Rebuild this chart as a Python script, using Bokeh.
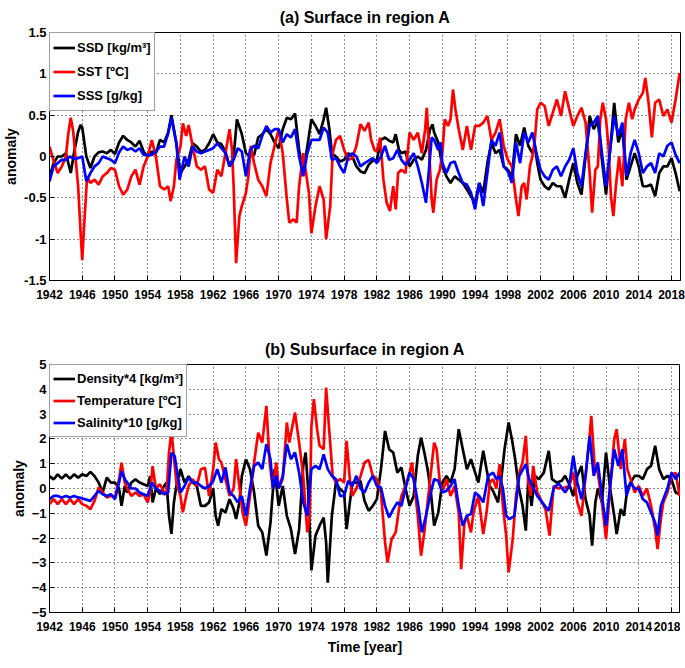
from bokeh.plotting import figure
from bokeh.layouts import column
from bokeh.models import Range1d, FixedTicker, Legend, LegendItem
from bokeh.embed import file_html
from bokeh.resources import INLINE

FONT = "Liberation Sans"

# ---------------- data: (a) surface ----------------
ssd_year = [1942, 1942.5, 1943, 1943.5, 1944, 1944.6, 1945, 1945.5, 1945.8, 1946, 1946.5, 1947, 1947.5, 1948, 1948.5, 1949, 1949.5,
            1950, 1950.5, 1951, 1951.5, 1952, 1952.5, 1953, 1953.5, 1954, 1954.5, 1955, 1955.5, 1956, 1956.5, 1956.9, 1957.5, 1958, 1958.5, 1959, 1959.5,
            1960, 1960.5, 1961, 1961.5, 1962, 1962.5, 1963, 1963.5, 1964, 1964.5, 1964.9, 1965.5, 1966, 1966.5, 1967, 1967.5, 1968, 1968.5, 1969, 1969.5,
            1970, 1970.5, 1971, 1971.5, 1972, 1972.5, 1973, 1973.5, 1974, 1974.5, 1975, 1975.5, 1975.8, 1976.2, 1976.5, 1977, 1977.5, 1978, 1978.5, 1979, 1979.5,
            1980, 1980.5, 1981, 1981.5, 1982, 1982.5, 1983, 1983.5, 1984, 1984.3, 1984.7, 1985, 1985.5, 1986, 1986.5, 1987, 1987.5, 1988, 1988.5, 1988.8, 1989, 1989.5,
            1990, 1990.5, 1991, 1991.5, 1992, 1992.5, 1993, 1993.5, 1994, 1994.5, 1995, 1995.5, 1996, 1996.5, 1997, 1997.5, 1998, 1998.5, 1999, 1999.5,
            2000, 2000.5, 2001, 2001.3, 2001.6, 2002, 2002.5, 2003, 2003.5, 2004, 2004.5, 2005, 2005.5, 2006, 2006.5, 2007, 2007.5, 2008, 2008.5, 2009, 2009.5,
            2010, 2010.5, 2011, 2011.5, 2012, 2012.5, 2013, 2013.5, 2014, 2014.5, 2015, 2015.5, 2016, 2016.5, 2017, 2017.5, 2018, 2018.5, 2019]
ssd_val = [-0.25, -0.08, 0.0, 0.0, 0.04, -0.2, 0.05, 0.3, 0.38, 0.35, 0.0, -0.14, 0.0, 0.05, 0.06, 0.04, 0.08,
           0.03, 0.17, 0.25, 0.2, 0.17, 0.12, 0.19, 0.06, 0.0, 0.06, 0.04, 0.2, 0.17, 0.29, 0.5, 0.16, -0.2, -0.12, -0.04, 0.16,
           0.12, 0.06, 0.08, 0.16, 0.27, 0.17, 0.15, 0.06, -0.12, 0.0, 0.45, 0.27, 0.04, 0.0, 0.02, 0.23, 0.27, 0.33, 0.27, 0.17,
           0.1, 0.33, 0.47, 0.45, 0.52, 0.08, -0.2, 0.12, 0.45, 0.37, 0.27, 0.45, 0.59, 0.33, 0.04, 0.0, -0.06, -0.04, 0.04, 0.0, -0.12,
           -0.18, -0.2, -0.1, -0.05, -0.04, 0.2, 0.23, 0.19, 0.17, 0.27, 0.08, 0.04, 0.06, -0.12, -0.04, 0.0, -0.04, 0.08, 0.33, 0.39, 0.29, 0.17,
           -0.12, -0.24, -0.32, -0.24, -0.28, -0.32, -0.4, -0.48, -0.56, -0.32, -0.44, -0.08, 0.17, 0.04, 0.08, -0.12, -0.16, -0.24, 0.27, 0.13,
           0.35, 0.13, 0.04, 0.13, -0.08, -0.28, -0.36, -0.4, -0.32, -0.36, -0.36, -0.5, -0.28, -0.08, -0.32, -0.46, 0.0, 0.49, 0.33, 0.43, -0.04,
           -0.46, 0.08, 0.65, 0.17, 0.33, -0.28, -0.12, 0.04, -0.12, -0.36, -0.36, -0.34, -0.48, -0.2, -0.12, -0.12, -0.02, -0.2, -0.42]

sst_year = [1942, 1942.5, 1943, 1943.5, 1944, 1944.3, 1944.6, 1944.9, 1945.2, 1945.5, 1945.8, 1946, 1946.3, 1946.6, 1947, 1947.5, 1948, 1948.5, 1949, 1949.5,
            1950, 1950.5, 1951, 1951.5, 1952, 1952.5, 1953, 1953.5, 1954, 1954.5, 1955, 1955.5, 1956, 1956.5, 1956.8, 1957.2, 1957.5, 1958, 1958.3, 1958.7, 1959, 1959.5,
            1960, 1960.5, 1961, 1961.5, 1962, 1962.5, 1963, 1963.5, 1964, 1964.3, 1964.5, 1964.8, 1965.2, 1965.5, 1966, 1966.3, 1966.6, 1967, 1967.5, 1968, 1968.5, 1969, 1969.5,
            1970, 1970.5, 1971, 1971.3, 1971.8, 1972.2, 1972.5, 1973, 1973.4, 1973.7, 1974, 1974.5, 1975, 1975.5, 1975.8, 1976.3, 1976.6, 1977, 1977.5, 1978, 1978.5, 1979, 1979.5,
            1980, 1980.5, 1981, 1981.3, 1981.7, 1982, 1982.4, 1982.8, 1983.2, 1983.6, 1984, 1984.3, 1984.6, 1985, 1985.5, 1986, 1986.5, 1987, 1987.5, 1987.9, 1988.1, 1988.4, 1988.7, 1988.9, 1989.3, 1989.7,
            1990, 1990.3, 1990.7, 1991, 1991.3, 1991.6, 1992, 1992.5, 1993, 1993.5, 1994, 1994.5, 1995, 1995.5, 1996, 1996.5, 1997, 1997.5, 1998, 1998.5, 1999, 1999.3, 1999.7,
            2000, 2000.3, 2000.7, 2001, 2001.3, 2001.6, 2002, 2002.5, 2003, 2003.5, 2004, 2004.5, 2005, 2005.5, 2006, 2006.5, 2007, 2007.5, 2008, 2008.3, 2008.7, 2009, 2009.3, 2009.6,
            2010, 2010.3, 2010.6, 2010.9, 2011.2, 2011.6, 2012, 2012.4, 2012.8, 2013.2, 2013.5, 2014, 2014.5, 2014.8, 2015.2, 2015.6, 2016, 2016.5, 2017, 2017.5, 2018, 2018.5, 2019]
sst_val = [0.12, -0.05, -0.2, -0.12, 0.0, 0.28, 0.47, 0.3, -0.04, -0.36, -0.92, -1.25, -0.72, -0.24, -0.32, -0.28, -0.34, -0.24, -0.2, -0.14,
           -0.16, -0.36, -0.46, -0.4, -0.24, -0.16, -0.34, -0.12, 0.0, 0.2, 0.0, -0.36, -0.4, -0.36, -0.54, -0.36, -0.04, 0.12, 0.4, 0.25, 0.38, 0.12,
           -0.12, -0.16, -0.12, -0.4, -0.44, -0.16, -0.24, 0.04, 0.33, 0.08, -0.36, -1.29, -0.72, -0.6, -0.44, -0.24, 0.13, -0.08, -0.28, -0.36, -0.48, -0.08, 0.13,
           0.33, 0.04, -0.52, -0.8, -0.76, -0.8, -0.36, 0.04, -0.24, -0.44, -0.93, -0.6, -0.36, -0.52, -1.0, -0.6, 0.04, 0.2, 0.25, 0.08, -0.04, -0.02, 0.13,
           0.39, 0.31, 0.41, 0.2, 0.08, 0.06, 0.23, -0.28, -0.56, -0.66, -0.36, -0.64, -0.2, -0.16, -0.2, 0.29, 0.2, 0.29, 0.04, 0.33, 0.59, 0.04, -0.52, -0.68, -0.28, -0.16,
           0.04, 0.45, 0.37, 0.45, 0.81, 0.57, 0.33, 0.08, 0.37, 0.08, 0.37, 0.37, 0.41, 0.49, 0.2, 0.29, 0.45, 0.13, -0.04, -0.12, -0.52, -0.72, -0.36,
           -0.32, -0.52, -0.12, 0.0, 0.2, 0.57, 0.65, 0.61, 0.37, 0.53, 0.69, 0.49, 0.79, 0.57, 0.37, 0.49, 0.59, 0.41, -0.2, -0.68, -0.16, -0.12, 0.45, 0.65,
           0.45, 0.13, -0.48, -0.72, -0.36, 0.0, -0.36, 0.45, 0.65, 0.45, 0.57, 0.69, 0.77, 0.95, 0.65, 0.23, 0.65, 0.69, 0.49, 0.57, 0.41, 0.69, 1.01]

sss_year = [1942, 1942.5, 1943, 1943.5, 1944, 1944.5, 1945, 1945.5, 1946, 1946.5, 1947, 1947.5, 1948, 1948.5, 1949, 1949.5,
            1950, 1950.5, 1951, 1951.5, 1952, 1952.5, 1953, 1953.5, 1954, 1954.5, 1955, 1955.5, 1956, 1956.5, 1956.9, 1957.5, 1957.9, 1958.5, 1959, 1959.5,
            1960, 1960.5, 1961, 1961.5, 1962, 1962.5, 1963, 1963.5, 1964, 1964.5, 1965, 1965.5, 1966, 1966.5, 1967, 1967.5, 1968, 1968.5, 1969, 1969.5,
            1970, 1970.5, 1971, 1971.5, 1972, 1972.5, 1973, 1973.5, 1974, 1974.5, 1975, 1975.5, 1976, 1976.5, 1977, 1977.5, 1978, 1978.5, 1979, 1979.5,
            1980, 1980.5, 1981, 1981.5, 1982, 1982.5, 1983, 1983.5, 1984, 1984.5, 1985, 1985.5, 1986, 1986.5, 1987, 1987.5, 1988, 1988.4, 1988.7, 1989, 1989.5, 1989.8,
            1990, 1990.5, 1991, 1991.5, 1992, 1992.5, 1993, 1993.5, 1994, 1994.5, 1995, 1995.5, 1996, 1996.5, 1997, 1997.5, 1998, 1998.5, 1999, 1999.5,
            2000, 2000.5, 2001, 2001.5, 2002, 2002.5, 2003, 2003.5, 2004, 2004.5, 2005, 2005.5, 2006, 2006.5, 2007, 2007.5, 2008, 2008.5, 2009, 2009.5,
            2010, 2010.5, 2011, 2011.5, 2012, 2012.5, 2013, 2013.5, 2014, 2014.5, 2015, 2015.5, 2016, 2016.5, 2017, 2017.5, 2018, 2018.5, 2019]
sss_val = [-0.3, -0.12, -0.08, -0.04, -0.04, 0.0, -0.03, -0.02, 0.0, -0.3, -0.2, -0.12, -0.08, 0.0, -0.02, -0.04,
           -0.08, 0.05, 0.12, 0.08, 0.1, 0.06, 0.1, 0.02, 0.02, 0.02, 0.06, 0.12, 0.12, 0.28, 0.47, 0.16, -0.28, 0.0, -0.12, 0.12,
           0.06, 0.04, 0.06, 0.08, 0.1, 0.16, 0.1, 0.04, -0.12, -0.04, 0.1, 0.06, -0.24, 0.08, 0.13, 0.1, 0.25, 0.37, 0.29, 0.33,
           0.33, 0.17, 0.27, 0.23, 0.33, 0.0, -0.24, 0.04, 0.2, 0.2, 0.2, 0.35, 0.29, -0.04, -0.02, -0.12, -0.2, 0.0, 0.04, 0.0,
           -0.12, -0.08, -0.05, -0.02, -0.08, 0.0, 0.13, -0.04, -0.02, 0.08, -0.04, -0.1, -0.04, 0.04, -0.12, -0.32, -0.56, -0.12, 0.23, 0.2, 0.08, 0.17,
           -0.08, -0.2, -0.08, -0.06, -0.2, -0.32, -0.34, -0.44, -0.64, -0.32, -0.6, -0.2, 0.2, 0.13, 0.29, -0.12, -0.18, -0.32, 0.17, -0.08,
           0.29, 0.17, 0.29, 0.04, -0.16, -0.24, -0.28, -0.16, -0.12, -0.24, -0.12, -0.04, 0.1, -0.2, -0.36, 0.04, 0.37, 0.41, 0.49, 0.04,
           -0.36, 0.08, 0.49, 0.25, 0.41, -0.24, 0.04, 0.2, 0.04, -0.2, -0.12, -0.08, -0.2, 0.04, 0.0, 0.13, 0.17, 0.02, -0.08]

# ---------------- data: (b) subsurface ----------------
dens_year = [1942, 1942.5, 1943, 1943.5, 1944, 1944.5, 1945, 1945.5, 1946, 1946.5, 1947, 1947.5, 1948, 1948.5, 1949, 1949.5,
             1950, 1950.5, 1950.8, 1951.2, 1951.5, 1952, 1952.5, 1953, 1953.5, 1954, 1954.3, 1954.6, 1955, 1955.5, 1956, 1956.3, 1956.6, 1956.9, 1957.2, 1957.5, 1958, 1958.5, 1959, 1959.5,
             1960, 1960.5, 1961, 1961.5, 1962, 1962.3, 1962.6, 1963, 1963.5, 1964, 1964.5, 1964.8, 1965.2, 1965.5, 1966, 1966.5, 1967, 1967.5, 1968, 1968.5, 1969, 1969.5,
             1970, 1970.5, 1971, 1971.5, 1972, 1972.5, 1973, 1973.3, 1973.6, 1974, 1974.5, 1975, 1975.5, 1975.8, 1976, 1976.5, 1977, 1977.5, 1978, 1978.3, 1978.8, 1979, 1979.5,
             1980, 1980.5, 1981, 1981.5, 1982, 1982.5, 1983, 1983.5, 1984, 1984.5, 1985, 1985.5, 1986, 1986.5, 1987, 1987.4, 1987.8, 1988.2, 1988.6, 1989, 1989.5,
             1990, 1990.5, 1991, 1991.5, 1992, 1992.5, 1993, 1993.5, 1993.8, 1994.4, 1995, 1995.4, 1995.8, 1996.2, 1996.8, 1997.2, 1997.6, 1998.1, 1998.5, 1998.9, 1999.3, 1999.8,
             2000.2, 2000.5, 2000.9, 2001.3, 2001.8, 2002.4, 2003, 2003.4, 2004, 2004.6, 2005, 2005.5, 2006, 2006.5, 2007, 2007.5, 2008, 2008.3, 2008.7, 2009, 2009.5,
             2010, 2010.5, 2011, 2011.3, 2011.8, 2012.2, 2012.6, 2013, 2013.5, 2014, 2014.5, 2015, 2015.5, 2016, 2016.5, 2017, 2017.5, 2018, 2018.5, 2019]
dens_val = [0.5, 0.37, 0.57, 0.4, 0.57, 0.4, 0.57, 0.44, 0.57, 0.5, 0.67, 0.5, 0.24, -0.16, 0.44, 0.24,
            0.24, 0.0, -0.7, 0.1, -0.16, 0.24, 0.37, 0.24, 0.17, 0.1, 0.5, -0.56, 0.0, -0.23, 0.1, 0.24, -1.1, -1.83, -0.56, 0.1, 0.78, 0.24, 0.5, 0.24,
            0.1, -0.7, -0.7, -0.56, 0.0, -1.1, -1.5, -0.83, -0.97, -0.43, -0.83, -1.23, -0.56, 0.5, 1.18, 0.78, -0.16, -1.5, -1.77, -2.7, -1.37, 0.78,
            -0.7, 0.1, -1.1, -1.64, -2.64, -1.64, 0.91, 1.45, -0.03, -3.3, -1.9, -1.5, -1.17, -2.17, -3.8, -1.1, 0.24, -0.03, -0.16, -1.64, -0.3, 0.24, 0.24,
            0.3, -0.5, -0.9, -0.7, -0.43, 0.78, 2.32, 1.58, 1.45, 0.64, 0.85, 0.0, -0.7, -0.3, 1.32, 2.05, 1.45, 0.78, -0.16, -1.5, -0.97,
            0.24, 0.51, 0.24, 0.78, 2.39, 1.58, 0.78, 1.18, 0.85, 0.24, 1.52, 0.78, 0.1, -0.1, -0.56, 0.38, 1.58, 2.66, 1.99, 1.18, 0.1, -0.7,
            -1.7, 0.38, -0.7, 0.51, 0.38, 0.64, 1.52, 0.38, 0.24, 0.31, 0.51, 0.17, -0.3, 0.51, 0.91, -0.43, -1.1, -2.3, -0.56, 0.0, -0.56,
            1.45, 0.0, -1.1, -1.84, -0.83, -1.1, 0.0, 0.24, 0.51, 0.51, 0.38, 0.78, 0.91, 1.72, 0.78, 0.38, 0.51, 0.38, -0.16, -0.23]

temp_year = [1942, 1942.5, 1943, 1943.5, 1944, 1944.5, 1945, 1945.5, 1946, 1946.5, 1947, 1947.5, 1948, 1948.5, 1949, 1949.5,
             1950, 1950.5, 1950.8, 1951.2, 1951.5, 1952, 1952.5, 1953, 1953.5, 1954, 1954.3, 1954.6, 1955, 1955.5, 1956, 1956.3, 1956.6, 1956.9, 1957.2, 1957.5, 1958, 1958.3, 1958.7, 1959, 1959.5,
             1960, 1960.5, 1961, 1961.5, 1962, 1962.3, 1962.7, 1963, 1963.5, 1964, 1964.5, 1964.8, 1965.2, 1965.6, 1966, 1966.5, 1967, 1967.5, 1968, 1968.5, 1968.9, 1969.3, 1969.7,
             1970, 1970.5, 1971, 1971.3, 1971.6, 1972, 1972.5, 1973, 1973.5, 1973.8, 1974, 1974.3, 1974.7, 1975, 1975.5, 1975.8, 1976.2, 1976.6, 1977, 1977.5, 1978, 1978.3, 1978.7, 1979, 1979.5,
             1980, 1980.5, 1981, 1981.5, 1982, 1982.5, 1983, 1983.3, 1983.8, 1984.3, 1984.7, 1985, 1985.5, 1986, 1986.3, 1986.6, 1987, 1987.4, 1987.8, 1988.2, 1988.6, 1989, 1989.3, 1989.7,
             1990, 1990.5, 1991, 1991.5, 1992, 1992.3, 1992.7, 1993, 1993.5, 1993.8, 1994.4, 1995, 1995.4, 1995.8, 1996.2, 1996.6, 1997, 1997.4, 1997.8, 1998.1, 1998.6, 1999, 1999.4, 1999.8,
             2000.2, 2000.5, 2000.8, 2001.1, 2001.6, 2002.2, 2002.6, 2003.1, 2003.6, 2004.2, 2005, 2005.5, 2006, 2006.5, 2007, 2007.5, 2008, 2008.2, 2008.6, 2009, 2009.5,
             2010, 2010.5, 2011, 2011.3, 2011.8, 2012.3, 2012.6, 2013, 2013.5, 2014, 2014.5, 2015, 2015.5, 2016, 2016.3, 2016.7, 2017, 2017.5, 2018, 2018.5, 2019]
temp_val = [-0.63, -0.43, -0.63, -0.43, -0.63, -0.43, -0.63, -0.43, -0.63, -0.7, -0.83, -0.5, 0.04, -0.16, -0.36, -0.3,
            -0.36, 0.37, 1.04, 0.24, 0.0, -0.3, -0.16, -0.3, -0.23, -0.56, -0.16, 0.9, 0.0, 0.17, -0.16, -0.23, 1.44, 2.3, 1.3, 0.24, -0.3, -0.96, -0.3, 0.1, 0.37,
            0.1, 0.78, 0.84, -0.3, 0.78, 1.85, 1.18, 1.05, 0.38, -0.3, 0.0, 1.18, 0.1, -0.97, -1.5, -0.3, 1.05, 2.25, 1.85, 3.33, 1.05, 0.0, 1.05,
            0.0, 0.38, 2.66, 1.85, 2.39, 3.06, 1.85, 0.51, -1.77, -1.1, 2.5, 3.6, 2.39, 1.72, 1.58, 4.07, 2.25, 0.51, 0.24, 0.38, 0.24, 1.92, 0.38, -0.3, 0.0,
            0.5, 1.05, 1.15, 0.51, 0.38, -0.16, -2.17, -2.98, -2.04, -1.77, -0.83, -0.3, 0.1, 0.64, 1.05, 0.1, -1.1, -2.71, -1.77, -0.56, 0.64, 1.85, 1.58, 0.24,
            -0.16, 0.38, -0.3, 0.1, -0.97, -3.25, -1.37, -1.1, -1.77, -0.97, -0.3, -1.84, -0.97, 0.24, 0.38, 0.0, 0.98, -0.7, -1.9, -3.38, -2.04, -0.3, 0.64, 1.05,
            2.12, 0.24, -0.3, 0.91, -0.16, -0.56, -0.83, -1.9, 0.1, 0.0, 0.04, 0.1, 0.64, -0.56, -1.1, 0.51, 2.12, 2.93, 0.91, 0.64, -0.56,
            -2.04, 0.0, 1.99, 2.39, 0.78, 1.99, 0.78, 0.38, -0.16, 0.1, -0.3, 0.0, -0.7, -1.64, -2.44, -1.23, -0.56, -0.16, 0.51, 0.64, -0.3]

sal_year = [1942, 1942.5, 1943, 1943.5, 1944, 1944.5, 1945, 1945.5, 1946, 1946.5, 1947, 1947.5, 1948, 1948.5, 1949, 1949.5,
            1950, 1950.5, 1950.8, 1951.2, 1951.5, 1952, 1952.5, 1953, 1953.5, 1954, 1954.5, 1955, 1955.5, 1956, 1956.5, 1956.9, 1957.3, 1957.6, 1958, 1958.5, 1959, 1959.5,
            1960, 1960.5, 1961, 1961.5, 1962, 1962.5, 1963, 1963.5, 1964, 1964.5, 1965, 1965.5, 1966, 1966.5, 1967, 1967.5, 1968, 1968.5, 1969, 1969.3, 1969.7,
            1970, 1970.5, 1971, 1971.5, 1972, 1972.5, 1973, 1973.5, 1974, 1974.5, 1975, 1975.5, 1976, 1976.5, 1977, 1977.5, 1978, 1978.5, 1979, 1979.5,
            1980, 1980.5, 1981, 1981.5, 1982, 1982.5, 1983, 1983.5, 1984, 1984.5, 1985, 1985.5, 1986, 1986.5, 1987, 1987.5, 1988, 1988.5, 1989, 1989.5,
            1990, 1990.5, 1991, 1991.5, 1992, 1992.5, 1993, 1993.5, 1994, 1994.5, 1995, 1995.6, 1996.2, 1996.6, 1997, 1997.4, 1997.8, 1998.2, 1998.8, 1999.4,
            2000.2, 2000.6, 2001, 2001.6, 2002.2, 2003, 2003.6, 2004.2, 2005, 2005.5, 2006, 2006.5, 2007, 2007.5, 2008, 2008.5, 2009, 2009.5,
            2010, 2010.5, 2011, 2011.5, 2012, 2012.5, 2013, 2013.5, 2014, 2014.5, 2015, 2015.5, 2016, 2016.3, 2016.7, 2017, 2017.5, 2018, 2018.5, 2019]
sal_val = [-0.43, -0.3, -0.3, -0.36, -0.3, -0.36, -0.3, -0.36, -0.4, -0.45, -0.5, -0.3, -0.1, -0.23, -0.3, -0.23,
           -0.43, 0.24, 0.7, 0.37, 0.24, 0.0, 0.0, -0.16, -0.23, -0.3, 0.24, 0.0, -0.1, -0.23, -0.16, 1.44, 1.3, 0.64, -0.16, 0.1, 0.44, 0.24,
           0.24, 0.1, 0.0, 0.1, 0.3, 0.78, 0.24, 0.85, -0.16, -0.3, -0.56, -0.3, -1.1, 0.0, 0.91, 1.05, 0.78, 1.79, 1.18, 0.0, 0.51,
           0.0, 0.51, 1.79, 1.18, 1.45, 0.64, -0.56, -1.1, 0.78, 0.91, 0.78, 1.38, 0.78, 0.51, 0.38, -0.3, -0.3, 0.31, 0.1, 0.51,
           0.0, -0.16, 0.24, 0.51, 0.1, 0.04, -0.7, -1.17, -0.83, -0.56, -0.7, 0.0, 0.64, 0.38, -0.56, -1.77, -1.1, -0.3, 0.38, 0.31,
           -0.16, -0.1, 0.1, 0.38, -0.7, -1.5, -1.1, -1.03, -0.16, -0.3, -0.56, 0.51, 0.64, 0.38, 0.51, 0.0, -1.1, -1.23, -1.1, 0.51,
           0.98, 0.38, 0.1, -0.3, -0.56, -0.9, 0.0, 0.21, -0.16, 0.1, 1.32, 0.24, -0.43, 0.51, 2.12, 0.51, 1.05, -0.3,
           -1.5, 0.1, 1.58, 0.91, 1.58, -0.3, 0.24, 0.0, 0.0, -0.43, -0.56, -0.97, -1.37, -1.9, -0.7, -0.43, 0.0, 0.64, 0.38, 0.64]

year_ticks = list(range(1942, 2019, 4))
top_yticks = [-1.5, -1, -0.5, 0, 0.5, 1, 1.5]
top_ylabels = {-1.5: "-1.5", -1: "-1", -0.5: "-0.5", 0: "0", 0.5: "0.5", 1: "1", 1.5: "1.5"}
bot_yticks = [-5, -4, -3, -2, -1, 0, 1, 2, 3, 4, 5]

top_names = ["SSD [kg/m\u00b3]", "SST [\u00baC]", "SSS [g/kg]"]
bot_names = ["Density*4 [kg/m\u00b3]", "Temperature [\u00baC]", "Salinity*10 [g/kg]"]
colors = ["black", "red", "blue"]


def make_fig(title, yrange, yticks, border_top, border_bottom, xlabel=None):
    p = figure(frame_width=631, frame_height=248,
               x_range=Range1d(1942, 2019.1), y_range=Range1d(*yrange),
               output_backend="svg", toolbar_location=None,
               min_border_left=39, min_border_right=7,
               min_border_top=border_top, min_border_bottom=border_bottom,
               title=title)
    p.title.align = "center"
    p.title.text_font = FONT
    p.title.text_font_size = "16px"
    p.title.text_font_style = "bold"
    p.title.text_color = "black"
    p.title.standoff = 13
    p.outline_line_color = "black"
    p.outline_line_width = 1
    p.background_fill_color = "white"
    p.border_fill_color = "white"
    p.xaxis.ticker = FixedTicker(ticks=year_ticks)
    p.yaxis.ticker = FixedTicker(ticks=yticks)
    for ax in (p.xaxis[0], p.yaxis[0]):
        ax.major_label_text_font = FONT
        ax.major_label_text_font_style = "bold"
        ax.major_label_text_color = "black"
        ax.axis_line_color = "black"
        ax.major_tick_in = 5
        ax.major_tick_out = 0
        ax.major_tick_line_color = "black"
        ax.minor_tick_line_color = None
        ax.axis_label_text_font = FONT
        ax.axis_label_text_font_size = "14px"
        ax.axis_label_text_font_style = "bold"
        ax.axis_label_text_color = "black"
        ax.axis_label_standoff = 2
    p.xaxis.major_label_text_font_size = "12px"
    p.yaxis.major_label_text_font_size = "13px"
    p.xaxis.major_label_standoff = 9
    p.yaxis.major_label_standoff = 3
    p.yaxis.axis_label = "anomaly"
    if xlabel:
        p.xaxis.axis_label = xlabel
        p.xaxis.axis_label_standoff = 5
    for g in (p.xgrid[0], p.ygrid[0]):
        g.grid_line_color = "#222222"
        g.grid_line_dash = "1 3"
        g.grid_line_width = 1
    return p


def add_series(p, series, names, row_h):
    items = []
    for (xs, ys), name, c in zip(series, names, colors):
        r = p.line(xs, ys, line_color=c, line_width=2.7)
        items.append(LegendItem(label=name, renderers=[r]))
    leg = Legend(items=items, location="top_left")
    leg.label_text_font = FONT
    leg.label_text_font_size = "13px"
    leg.label_text_font_style = "bold"
    leg.label_text_color = "black"
    leg.glyph_width = 22
    leg.glyph_height = row_h
    leg.label_height = row_h
    leg.label_standoff = 2
    leg.spacing = 1
    leg.padding = 3
    leg.margin = 0
    leg.border_line_color = "#444444"
    leg.border_line_width = 1
    leg.background_fill_alpha = 1.0
    p.add_layout(leg)


p1 = make_fig("(a) Surface in region A", (-1.5, 1.5), top_yticks, 30, 30)
p1.yaxis.major_label_overrides = top_ylabels
add_series(p1, [(ssd_year, ssd_val), (sst_year, sst_val), (sss_year, sss_val)], top_names, 23)

p2 = make_fig("(b) Subsurface in region A", (-5, 5), bot_yticks, 54, 46, xlabel="Time [year]")
add_series(p2, [(dens_year, dens_val), (temp_year, temp_val), (sal_year, sal_val)], bot_names, 21)

layout = column(p1, p2, spacing=0)
open("out.html", "w").write(file_html(layout, INLINE))
